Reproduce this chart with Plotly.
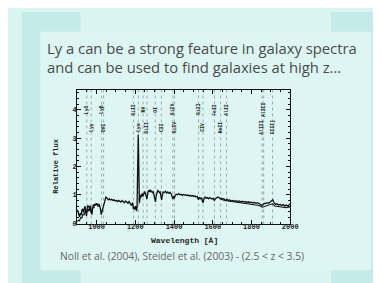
import plotly.graph_objects as go

# ---------------- data ----------------
wl_a = [900, 904, 908, 912, 916, 920, 924, 928, 932, 936, 940, 944, 948, 952, 956, 960, 964, 968, 972, 976,
        980, 984, 988, 992, 996, 1000, 1004, 1008, 1012, 1016, 1020, 1024, 1028, 1032, 1036, 1040, 1044, 1048,
        1052, 1056, 1060, 1066, 1072, 1078, 1084, 1090, 1096, 1102, 1108, 1114, 1120, 1126, 1132, 1138, 1144,
        1150, 1156, 1162, 1168, 1174, 1180, 1186, 1190, 1194, 1198, 1202, 1206, 1209, 1211, 1213, 1215, 1217,
        1219, 1221, 1224, 1228, 1232, 1236, 1240, 1244, 1248, 1252, 1256, 1260, 1264, 1268, 1272, 1276, 1280,
        1284, 1288, 1292, 1296, 1300, 1304, 1308, 1312, 1316, 1320, 1324, 1328, 1332, 1336, 1340, 1344, 1350,
        1356, 1362, 1368, 1374, 1380, 1386, 1390, 1394, 1398, 1402, 1406, 1412, 1418, 1424, 1430, 1436, 1442,
        1448, 1454, 1460, 1466, 1472, 1478, 1484, 1490, 1496, 1502, 1508, 1514, 1520, 1526, 1530, 1536, 1542,
        1546, 1550, 1554, 1560, 1566, 1572, 1578, 1584, 1590, 1596, 1602, 1608, 1614, 1620, 1626, 1632, 1638,
        1644, 1650, 1656, 1662, 1668, 1674, 1680, 1688, 1696, 1704, 1712, 1720, 1728, 1736, 1744, 1752, 1760,
        1768, 1776, 1784, 1792, 1800, 1808, 1816, 1824, 1832, 1840, 1848, 1854, 1860, 1866, 1872, 1880, 1888,
        1896, 1904, 1910, 1916, 1924, 1932, 1940, 1948, 1956, 1964, 1972, 1980, 1988, 1996, 2000]
flux_a = [0.48, 0.40, 0.30, 0.22, 0.35, 0.28, 0.45, 0.50, 0.38, 0.55, 0.60, 0.40, 0.25, 0.55, 0.62, 0.58, 0.45,
          0.62, 0.40, 0.30, 0.55, 0.65, 0.60, 0.68, 0.62, 0.70, 0.66, 0.58, 0.68, 0.62, 0.50, 0.30, 0.42, 0.45,
          0.60, 0.72, 0.80, 0.92, 0.90, 0.86, 0.82, 0.86, 0.82, 0.84, 0.80, 0.82, 0.78, 0.80, 0.76, 0.80, 0.78,
          0.74, 0.80, 0.76, 0.72, 0.78, 0.74, 0.70, 0.76, 0.68, 0.62, 0.72, 0.50, 0.58, 0.48, 0.60, 0.42, 0.55,
          1.20, 2.60, 3.12, 2.40, 1.30, 0.70, 0.85, 1.00, 0.92, 1.05, 0.95, 1.10, 1.12, 1.05, 0.95, 0.85, 1.05,
          1.15, 1.12, 1.18, 1.10, 1.14, 1.08, 1.10, 1.00, 0.80, 0.75, 0.98, 1.10, 1.15, 1.12, 1.08, 1.10, 0.90,
          0.82, 1.00, 1.10, 1.08, 1.12, 1.06, 1.10, 1.05, 1.08, 1.02, 0.95, 0.85, 0.95, 0.88, 0.98, 1.02, 1.00,
          1.04, 1.00, 1.02, 0.98, 1.01, 0.99, 1.00, 0.97, 0.99, 0.96, 0.98, 0.95, 0.97, 0.94, 0.96, 0.92, 0.94,
          0.82, 0.90, 0.86, 0.90, 0.78, 0.72, 0.85, 0.92, 0.88, 0.90, 0.86, 0.90, 0.87, 0.85, 0.88, 0.80, 0.86,
          0.88, 0.92, 0.90, 0.86, 0.88, 0.84, 0.86, 0.82, 0.80, 0.84, 0.80, 0.82, 0.78, 0.80, 0.77, 0.79, 0.76,
          0.78, 0.75, 0.77, 0.74, 0.76, 0.73, 0.75, 0.72, 0.74, 0.71, 0.73, 0.70, 0.72, 0.68, 0.66, 0.62, 0.66,
          0.70, 0.68, 0.72, 0.70, 0.74, 0.78, 0.82, 0.72, 0.66, 0.68, 0.64, 0.66, 0.62, 0.65, 0.60, 0.64, 0.60,
          0.66, 0.68]

wl_b = [900, 906, 912, 918, 924, 930, 936, 942, 948, 954, 960, 966, 972, 978, 984, 990, None,
        1640, 1660, 1680, 1700, 1720, 1740, 1760, 1780, 1800, 1820, 1840, 1856, 1870, 1890, 1908, 1920,
        1940, 1960, 1980, 2000]
flux_b = [0.05, 0.10, 0.08, 0.20, 0.18, 0.32, 0.28, 0.45, 0.35, 0.50, 0.42, 0.55, 0.35, 0.50, 0.58, 0.55, None,
          0.86, 0.80, 0.78, 0.76, 0.74, 0.72, 0.70, 0.70, 0.68, 0.66, 0.62, 0.56, 0.60, 0.64, 0.68, 0.60,
          0.58, 0.56, 0.54, 0.58]

line_wl = [949.7, 972.5, 1025.7, 1036.3, 1190.4, 1215.7, 1240.1, 1260.4, 1303.3, 1334.5, 1393.8, 1402.8,
           1526.7, 1549.5, 1608.5, 1640.4, 1670.8, 1854.7, 1862.8, 1908.7]
line_name = ["Lyδ", "Lyγ", "Lyβ", "OVI", "SiII", "Lyα", "NV", "SiII", "OI", "CII", "SiIV", "SiIV",
             "SiII", "CIV", "FeII", "HeII", "AlII", "AlIII", "AlIII", "CIII]"]
line_row_y = [4.02, 3.37, 4.02, 3.37, 4.02, 3.37, 4.02, 3.37, 4.02, 3.37, 4.02, 3.37,
              4.02, 3.37, 4.02, 3.37, 4.02, 3.37, 4.02, 3.37]

x_ticks = [1000, 1200, 1400, 1600, 1800, 2000]
y_ticks = [0, 1, 2, 3, 4]

heading_lines = ["Ly a can be a strong feature in galaxy spectra",
                 "and can be used to find galaxies at high z..."]
caption = "Noll et al. (2004), Steidel et al. (2003) - (2.5 < z < 3.5)"

# ---------------- figure ----------------
W, H = 381, 283
OUTER = "#daf4f1"
DARK = "#c4ebe7"
CARD = "#ddf6f3"
MONO = "Liberation Mono"

def px_x(p):
    return p / W

def px_y(p):
    return 1 - p / H

fig = go.Figure()

# vertical dotted line markers
vx, vy = [], []
for w in line_wl:
    vx += [w, w, None]
    vy += [-0.05, 4.75, None]
fig.add_trace(go.Scatter(x=vx, y=vy, mode="lines", hoverinfo="skip",
                         line=dict(color="#8a9a98", width=0.8, dash="dot"), showlegend=False))

fig.add_trace(go.Scatter(x=wl_b, y=flux_b, mode="lines", connectgaps=False,
                         line=dict(color="#111111", width=1.1), showlegend=False))
fig.add_trace(go.Scatter(x=wl_a, y=flux_a, mode="lines",
                         line=dict(color="#111111", width=1.3), showlegend=False))

shapes = [
    dict(type="rect", xref="paper", yref="paper", x0=px_x(14), x1=px_x(74), y0=px_y(283), y1=px_y(4),
         fillcolor=DARK, line_width=0, layer="below"),
    dict(type="rect", xref="paper", yref="paper", x0=px_x(330), x1=px_x(381), y0=px_y(283), y1=px_y(4),
         fillcolor=DARK, line_width=0, layer="below"),
    dict(type="rect", xref="paper", yref="paper", x0=px_x(33), x1=px_x(371), y0=px_y(266), y1=px_y(24),
         fillcolor=CARD, line_width=0, layer="below"),
]

annotations = []
for w, name, yy in zip(line_wl, line_name, line_row_y):
    annotations.append(dict(x=w, y=yy, xref="x", yref="y", text=name, showarrow=False, textangle=-90,
                            font=dict(family=MONO, size=4.8, color="#222222", weight="bold")))

annotations.append(dict(x=px_x(38), y=px_y(50), xref="paper", yref="paper", xanchor="left", yanchor="middle",
                        align="left", text="<br>".join(heading_lines), showarrow=False,
                        font=dict(family="Open Sans", size=14.8, color="#4a4a4a")))
annotations.append(dict(x=px_x(51), y=px_y(251.5), xref="paper", yref="paper", xanchor="left", yanchor="middle",
                        align="left", text=caption, showarrow=False,
                        font=dict(family="Open Sans", size=10.3, color="#666666")))
annotations.append(dict(x=px_x(49), y=px_y(160), xref="paper", yref="paper", xanchor="center", yanchor="middle",
                        text="Relative flux", textangle=-90, showarrow=False,
                        font=dict(family=MONO, size=7, color="#222222", weight="bold")))
annotations.append(dict(x=px_x(180), y=px_y(235.5), xref="paper", yref="paper", xanchor="center", yanchor="middle",
                        text="Wavelength [Å]", showarrow=False,
                        font=dict(family=MONO, size=8, color="#222222", weight="bold")))

axis_common = dict(showline=True, linecolor="#111111", linewidth=1, mirror="allticks", ticks="inside",
                   tickcolor="#111111", showgrid=False, zeroline=False,
                   tickfont=dict(family=MONO, size=7, color="#222222", weight="bold"))

fig.update_layout(
    width=W, height=H, margin=dict(l=0, r=0, t=0, b=0),
    paper_bgcolor=OUTER, plot_bgcolor="rgba(0,0,0,0)",
    shapes=shapes, annotations=annotations, showlegend=False,
    xaxis=dict(domain=[px_x(70.7), px_x(288.3)], range=[900, 2000], tickvals=x_ticks,
               ticklen=4, tickwidth=1, ticklabelstandoff=-4,
               minor=dict(dtick=50, ticklen=2, ticks="inside", tickcolor="#111111", tick0=900),
               **axis_common),
    yaxis=dict(domain=[px_y(219), px_y(83)], range=[-0.03, 4.71], tickvals=y_ticks,
               ticklen=4, tickwidth=1, ticklabelstandoff=-2,
               minor=dict(dtick=0.2, ticklen=2, ticks="inside", tickcolor="#111111", tick0=0),
               **axis_common),
)

fig.write_html("out.html")
